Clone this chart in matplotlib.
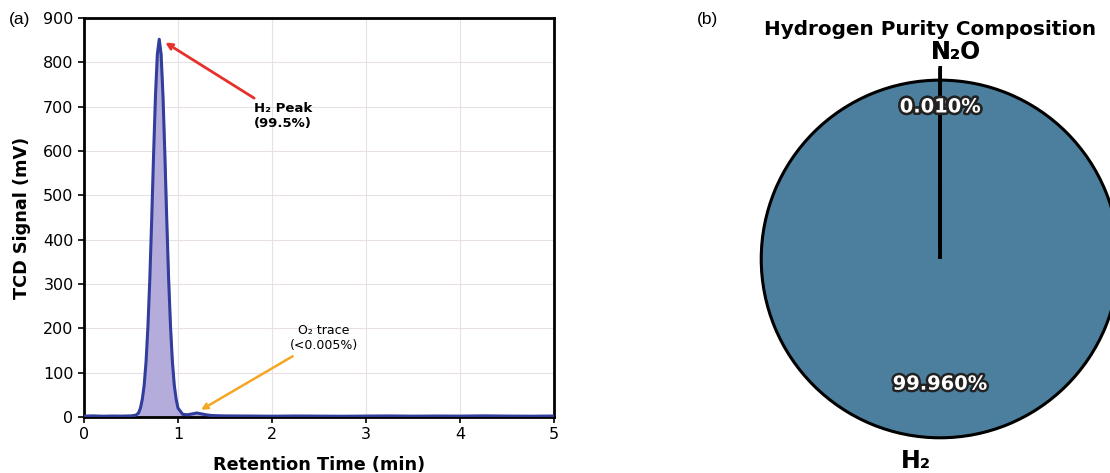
import matplotlib
matplotlib.use("Agg")
import matplotlib.pyplot as plt
import matplotlib.patheffects as pe

# chromatogram
time_min = [0.0, 0.1, 0.2, 0.3, 0.4, 0.5, 0.55, 0.58, 0.6, 0.62, 0.64, 0.66, 0.68,
            0.7, 0.72, 0.74, 0.76, 0.78, 0.8, 0.82, 0.84, 0.86, 0.88, 0.9, 0.92,
            0.94, 0.96, 0.98, 1.0, 1.05, 1.1, 1.15, 1.2, 1.25, 1.3, 1.35, 1.4,
            1.5, 1.75, 2.0, 2.25, 2.5, 2.75, 3.0, 3.25, 3.5, 3.75, 4.0, 4.25,
            4.5, 4.75, 5.0]
signal_mv = [2.0, 2.5, 1.8, 2.2, 2.0, 2.5, 4.0, 9.0, 20, 40, 72, 125, 205,
             312, 446, 592, 724, 818, 852, 818, 724, 592, 446, 312, 205,
             125, 72, 40, 20, 6.0, 5.0, 7.0, 9.0, 7.0, 5.0, 3.5, 3.0,
             2.5, 2.2, 1.8, 2.3, 2.0, 1.7, 2.1, 2.4, 1.9, 2.2, 2.0, 2.6,
             2.1, 1.8, 2.2]

# composition for panel (b)
gases = ["H\u2082", "N\u2082", "N\u2082O"]
purity_pct = [99.960, 0.030, 0.010]

fig = plt.figure(figsize=(11.1, 4.73), dpi=100)

# (a) chromatogram
ax = fig.add_axes([0.0757, 0.1184, 0.4234, 0.8436])
ax.fill_between(time_min, signal_mv, color="#b0a8d9", alpha=0.95, zorder=2)
ax.plot(time_min, signal_mv, color="#323e9c", lw=2.2, zorder=3)
ax.set_xlim(0, 5)
ax.set_ylim(0, 900)
ax.set_xticks(range(0, 6))
ax.set_yticks(range(0, 901, 100))
ax.grid(True, color="#e8e0e6", lw=0.8, zorder=0)
for s in ax.spines.values():
    s.set_linewidth(2)
ax.tick_params(labelsize=11.5, width=1.2, length=4)
ax.set_xlabel("Retention Time (min)", fontsize=12.7, fontweight="bold", labelpad=10)
ax.set_ylabel("TCD Signal (mV)", fontsize=12.7, fontweight="bold", labelpad=9)

ax.annotate("H\u2082 Peak\n(99.5%)", xy=(0.84, 848), xytext=(2.12, 678),
            fontsize=9.5, fontweight="bold", ha="center", va="center",
            arrowprops=dict(arrowstyle="->", color="#e8302a", lw=2))
ax.annotate("O\u2082 trace\n(<0.005%)", xy=(1.22, 13), xytext=(2.55, 178),
            fontsize=9, ha="center", va="center",
            arrowprops=dict(arrowstyle="->", color="#f5a623", lw=1.8))

# (b) pie
pax = fig.add_axes([0.6374, -0.039, 0.419, 0.983])
wedges, labels, pcts = pax.pie(
    purity_pct, labels=gases, colors=["#4b7f9d"] * len(gases),
    startangle=90, explode=[0, 0.07, 0.07],
    autopct="%1.3f%%", pctdistance=0.7, labeldistance=1.13,
    wedgeprops=dict(edgecolor="black", linewidth=2.2),
    textprops=dict(fontsize=17, fontweight="bold"))
pax.set_xlim(-1.3, 1.3)
pax.set_ylim(-1.3, 1.3)
pax.set_aspect("equal")
for t in pcts:
    t.set_color("white")
    t.set_fontsize(14)
    t.set_fontweight("bold")
    t.set_path_effects([pe.withStroke(linewidth=3.5, foreground="#222222")])
for t in pcts[1:]:
    t.set_position((0.0, 0.85))
    t.set_ha("center")
for t in labels[1:]:
    t.set_position((-0.05, 1.16))
    t.set_ha("left")
labels[0].set_position((-0.05, -1.13))
labels[0].set_ha("right")

fig.text(0.838, 0.937, "Hydrogen Purity Composition", fontsize=14.4,
         fontweight="bold", ha="center", va="center")
fig.text(0.008, 0.958, "(a)", fontsize=12.5, family="Liberation Sans", va="center")
fig.text(0.628, 0.958, "(b)", fontsize=12.5, family="Liberation Sans", va="center")

fig.savefig("out.png", dpi=100)
